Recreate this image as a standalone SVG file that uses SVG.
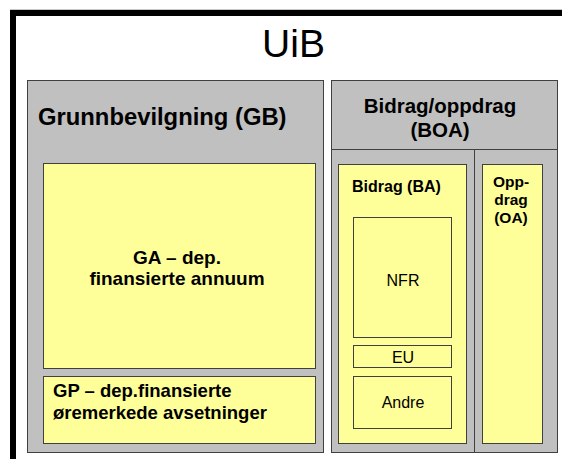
<svg xmlns="http://www.w3.org/2000/svg" width="562" height="459" viewBox="0 0 562 459">
<style>
.t{font-family:"Liberation Sans",Arial,sans-serif;fill:#000}
.b{font-weight:bold}
.gray{fill:#C0C0C0;stroke:#404040;stroke-width:1}
.yel{fill:#FFFF99;stroke:#404040;stroke-width:1}
</style>
<rect x="0" y="0" width="562" height="459" fill="#fff"/>
<g id="uib">
<line x1="10" y1="9.5" x2="562" y2="9.5" stroke="#c8c8c8" stroke-width="1"/>
<path d="M13 459 V13 H562" fill="none" stroke="#000" stroke-width="6"/>
<text class="t" x="293.5" y="57" font-size="39" text-anchor="middle">UiB</text>
</g>
<g id="gb">
<rect class="gray" x="27.5" y="80.5" width="296" height="372"/>
<text class="t b" x="38" y="125" font-size="23.8">Grunnbevilgning (GB)</text>
</g>
<g id="ga">
<rect class="yel" x="43.5" y="163.5" width="272" height="205"/>
<text class="t b" x="177" y="264" font-size="19" text-anchor="middle">GA – dep.</text>
<text class="t b" x="177" y="285" font-size="19" text-anchor="middle">finansierte annuum</text>
</g>
<g id="gp">
<rect class="yel" x="43.5" y="376.5" width="272" height="67"/>
<text class="t b" x="53" y="397" font-size="18.5">GP – dep.finansierte</text>
<text class="t b" x="53" y="419" font-size="18.5">øremerkede avsetninger</text>
</g>
<g id="boa">
<rect class="gray" x="331.5" y="80.5" width="226" height="372"/>
<line x1="331.5" y1="149.5" x2="557.5" y2="149.5" stroke="#404040" stroke-width="1"/>
<line x1="474.5" y1="149.5" x2="474.5" y2="452.5" stroke="#404040" stroke-width="1"/>
<text class="t b" x="440" y="113" font-size="20.5" text-anchor="middle">Bidrag/oppdrag</text>
<text class="t b" x="440" y="137" font-size="20.5" text-anchor="middle">(BOA)</text>
</g>
<g id="ba">
<rect class="yel" x="338.5" y="164.5" width="128" height="279"/>
<text class="t b" x="352" y="192" font-size="16">Bidrag (BA)</text>
</g>
<g id="nfr">
<rect class="yel" x="353.5" y="217.5" width="98" height="120"/>
<text class="t" x="403" y="286" font-size="16" text-anchor="middle">NFR</text>
</g>
<g id="eu">
<rect class="yel" x="353.5" y="345.5" width="98" height="22"/>
<text class="t" x="403" y="363" font-size="16" text-anchor="middle">EU</text>
</g>
<g id="andre">
<rect class="yel" x="353.5" y="376.5" width="98" height="52"/>
<text class="t" x="403" y="408" font-size="16" text-anchor="middle">Andre</text>
</g>
<g id="oa">
<rect class="yel" x="482.5" y="164.5" width="60" height="279"/>
<text class="t b" x="511" y="187" font-size="15.5" text-anchor="middle">Opp-</text>
<text class="t b" x="511" y="205" font-size="15.5" text-anchor="middle">drag</text>
<text class="t b" x="511" y="223" font-size="15.5" text-anchor="middle">(OA)</text>
</g>
<g id="connectors"/>
</svg>
